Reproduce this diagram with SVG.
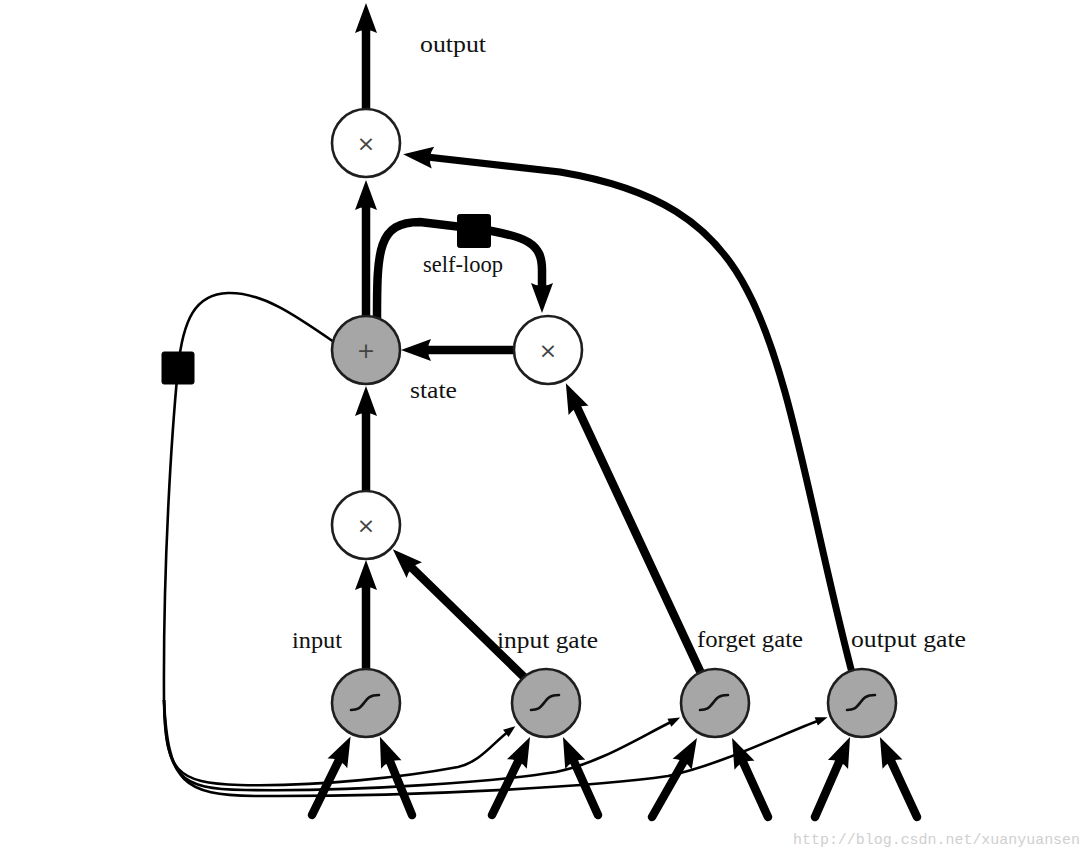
<svg xmlns="http://www.w3.org/2000/svg" width="1091" height="858" viewBox="0 0 1091 858">
<style>
.bg{fill:#ffffff}
.op{fill:#ffffff;stroke:#1e1e1e;stroke-width:2.6}
.gr{fill:#a6a6a6;stroke:#1e1e1e;stroke-width:2.6}
.sig{fill:none;stroke:#111;stroke-width:2.6;stroke-linecap:round}
.sym{font-family:"DejaVu Sans",sans-serif;font-size:22px;fill:#444;text-anchor:middle}
.lbl{font-family:"Liberation Serif",serif;font-size:23px;fill:#111}
.wm{font-family:"Liberation Mono",monospace;font-size:15px;fill:#cfcfcf}
.thick{fill:none;stroke:#000;stroke-width:8.5;stroke-linecap:round;marker-end:url(#big)}
.mid{fill:none;stroke:#000;stroke-width:7;stroke-linecap:round;marker-end:url(#big)}
.thin{fill:none;stroke:#000;stroke-width:2.6;marker-end:url(#small)}
.thinplain{fill:none;stroke:#000;stroke-width:2.6}
.sq{fill:#000;stroke:#000;stroke-width:1;stroke-linejoin:round}
</style>
<defs>
<marker id="big" markerUnits="userSpaceOnUse" markerWidth="34" markerHeight="26" refX="6" refY="12" orient="auto" overflow="visible">
<path d="M0,1 Q6,12 0,23 L30,12 Z" fill="#000"/>
</marker>
<marker id="small" markerUnits="userSpaceOnUse" markerWidth="14" markerHeight="10" refX="4" refY="4.5" orient="auto" overflow="visible">
<path d="M0,0 L12,4.5 L0,9 Z" fill="#000"/>
</marker>
</defs>
<rect class="bg" x="0" y="0" width="1091" height="858"/>

<g id="connectors">
<line class="thick" x1="366" y1="109" x2="366" y2="27"/>
<line class="thick" x1="366" y1="316" x2="366" y2="204"/>
<path class="thick" d="M377,318 C377,250 378,222 420,222 L470,228 C530,235 542,245 542,270 L542,289"/>
<line class="thick" x1="514" y1="350" x2="425" y2="350"/>
<line class="thick" x1="366" y1="491" x2="366" y2="410"/>
<line class="thick" x1="366" y1="669" x2="366" y2="584"/>
<line class="thick" x1="525" y1="678" x2="410" y2="566"/>
<line class="thick" x1="700" y1="671" x2="576" y2="405"/>
<path class="mid" d="M851,669 C810,510 790,370 747,290 C712,222 655,188 560,172 L427,157"/>
<path class="thinplain" d="M334,342 C295,315 262,292 228,293 C195,294 183,320 178,368 C172,430 163,560 164,700"/>
<path class="thin" d="M164,700 C165,772 176,783 240,785 C320,787 410,776 458,767 C480,762 492,744 509,731"/>
<path class="thin" d="M164,700 C166,778 179,789 245,790 C360,792 500,781 556,772 C600,763 640,737 673,721"/>
<path class="thin" d="M164,700 C168,783 183,795 255,796 C420,797 600,786 668,776 C720,765 780,735 820,720"/>
<line class="thick" x1="312" y1="815" x2="340" y2="758"/>
<line class="thick" x1="412" y1="815" x2="389" y2="759"/>
<line class="thick" x1="492" y1="815" x2="519.5" y2="758.6"/>
<line class="thick" x1="598" y1="815" x2="572.8" y2="758.9"/>
<line class="thick" x1="652" y1="817" x2="685.1" y2="758.9"/>
<line class="thick" x1="768" y1="817" x2="742" y2="759.8"/>
<line class="thick" x1="815" y1="817" x2="840.4" y2="759"/>
<line class="thick" x1="917" y1="817" x2="890" y2="758.8"/>
<rect class="sq" x="457.5" y="214.5" width="33" height="33" rx="2"/>
<rect class="sq" x="162" y="352" width="32" height="32" rx="2"/>
</g>

<g id="node-output-mult">
<circle class="op" cx="366" cy="143" r="34"/>
<text class="sym" x="366" y="151">×</text>
</g>
<g id="node-state">
<circle class="gr" cx="366" cy="350" r="34"/>
<text class="sym" x="366" y="358">+</text>
</g>
<g id="node-forget-mult">
<circle class="op" cx="548" cy="350" r="34"/>
<text class="sym" x="548" y="358">×</text>
</g>
<g id="node-input-mult">
<circle class="op" cx="366" cy="525" r="34"/>
<text class="sym" x="366" y="533">×</text>
</g>
<g id="node-input">
<circle class="gr" cx="366" cy="703" r="34"/>
<path class="sig" d="M351,710 C360,710 361,706 364,703 C367,699 369,695 379,695"/>
</g>
<g id="node-input-gate">
<circle class="gr" cx="546" cy="703" r="34"/>
<path class="sig" d="M531,710 C540,710 541,706 544,703 C547,699 549,695 559,695"/>
</g>
<g id="node-forget-gate">
<circle class="gr" cx="715" cy="703" r="34"/>
<path class="sig" d="M700,710 C709,710 710,706 713,703 C716,699 718,695 728,695"/>
</g>
<g id="node-output-gate">
<circle class="gr" cx="862" cy="703" r="34"/>
<path class="sig" d="M847,710 C856,710 857,706 860,703 C863,699 865,695 875,695"/>
</g>

<g id="labels">
<text class="lbl" x="420" y="52" textLength="66" lengthAdjust="spacingAndGlyphs">output</text>
<text class="lbl" x="423" y="272" textLength="80" lengthAdjust="spacingAndGlyphs">self-loop</text>
<text class="lbl" x="410" y="398" textLength="47" lengthAdjust="spacingAndGlyphs">state</text>
<text class="lbl" x="292" y="648" textLength="50" lengthAdjust="spacingAndGlyphs">input</text>
<text class="lbl" x="497" y="648" textLength="101" lengthAdjust="spacingAndGlyphs">input gate</text>
<text class="lbl" x="697" y="647" textLength="106" lengthAdjust="spacingAndGlyphs">forget gate</text>
<text class="lbl" x="851" y="647" textLength="115" lengthAdjust="spacingAndGlyphs">output gate</text>
<text class="wm" x="793" y="844" textLength="287" lengthAdjust="spacingAndGlyphs">http://blog.csdn.net/xuanyuansen</text>
</g>
</svg>
